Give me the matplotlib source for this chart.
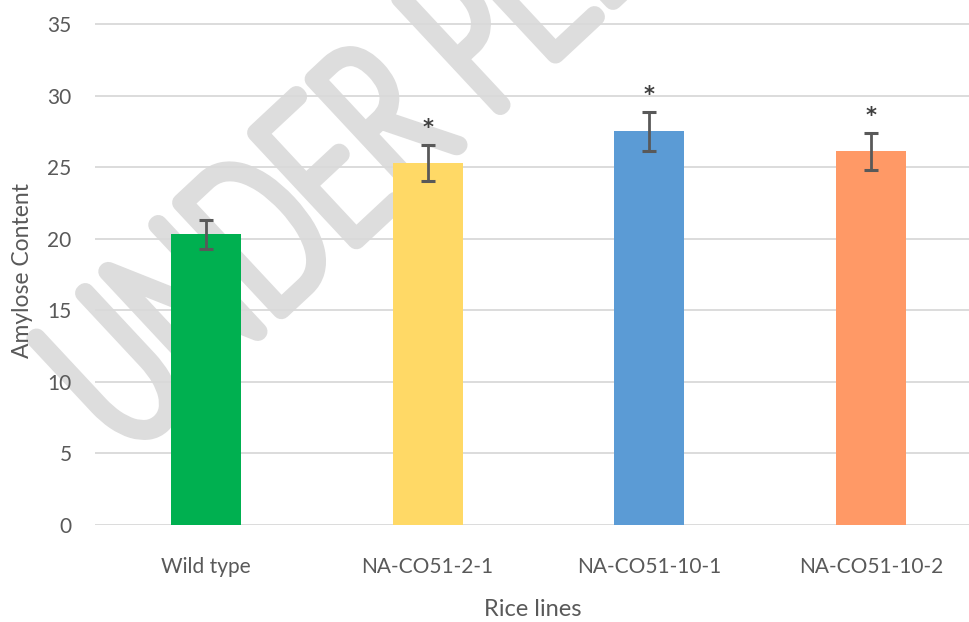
import matplotlib
import matplotlib.pyplot as plt
from matplotlib.font_manager import FontProperties
from matplotlib.patches import PathPatch
from matplotlib.text import TextPath
from matplotlib.transforms import Affine2D

matplotlib.use("Agg")

# Data
lines = ["Wild type", "NA-CO51-2-1", "NA-CO51-10-1", "NA-CO51-10-2"]
amylose = [20.3, 25.3, 27.5, 26.1]
errors = [1.0, 1.27, 1.37, 1.3]
marks = ["", "*", "*", "*"]
colors = ["#00B050", "#FFD966", "#5B9BD5", "#FF9966"]

plt.rcParams["font.family"] = ["Lato", "DejaVu Sans"]

fig = plt.figure(figsize=(9.7, 6.22), dpi=100)
ax = fig.add_axes([0.098, 0.156, 0.902, 0.8168])
ax.patch.set_alpha(0)

# "UNDER PEER REVIEW" watermark: hairline font stroked thick, rotated behind the plot
wm = TextPath((0, 0), "UNDER PEER REVIEW", size=100,
              prop=FontProperties(family="Lato", weight=100))
wm_tf = Affine2D().scale(1.35, 2.1).rotate_deg(43).translate(125, 166)
fig.add_artist(PathPatch(wm, transform=wm_tf, facecolor="#dddddd",
                         edgecolor="#dddddd", lw=13, joinstyle="round",
                         capstyle="round", zorder=-1))

x = range(len(lines))
ax.bar(x, amylose, width=0.316, color=colors, zorder=2)
ax.errorbar(x, amylose, yerr=errors, fmt="none", ecolor="#595959",
            elinewidth=2, capsize=5, capthick=2.2, zorder=3)

# significance stars above the error bars
for i, (v, e, m) in enumerate(zip(amylose, errors, marks)):
    if m:
        ax.annotate(m, xy=(i, v + e), xytext=(0, 12), textcoords="offset points",
                    ha="center", va="center", fontsize=15, fontweight="bold",
                    color="#404040", family="DejaVu Sans")

ax.set_xlim(-0.5, 3.447)
ax.set_ylim(0, 35.5)
ax.set_yticks(range(0, 36, 5))
ax.set_xticks(list(x))
ax.set_xticklabels(lines)
ax.yaxis.grid(True, color="#d9d9d9", lw=1.3, zorder=1)
ax.set_axisbelow(True)
for s in ax.spines.values():
    s.set_visible(False)
ax.tick_params(length=0, labelsize=15, colors="#595959")
ax.tick_params(axis="y", pad=17)
ax.tick_params(axis="x", pad=23)

ax.set_xlabel("Rice lines", fontsize=17, color="#595959", labelpad=16)
ax.set_ylabel("Amylose Content", fontsize=16.5, color="#595959", labelpad=10)

fig.savefig("out.png", dpi=100)
